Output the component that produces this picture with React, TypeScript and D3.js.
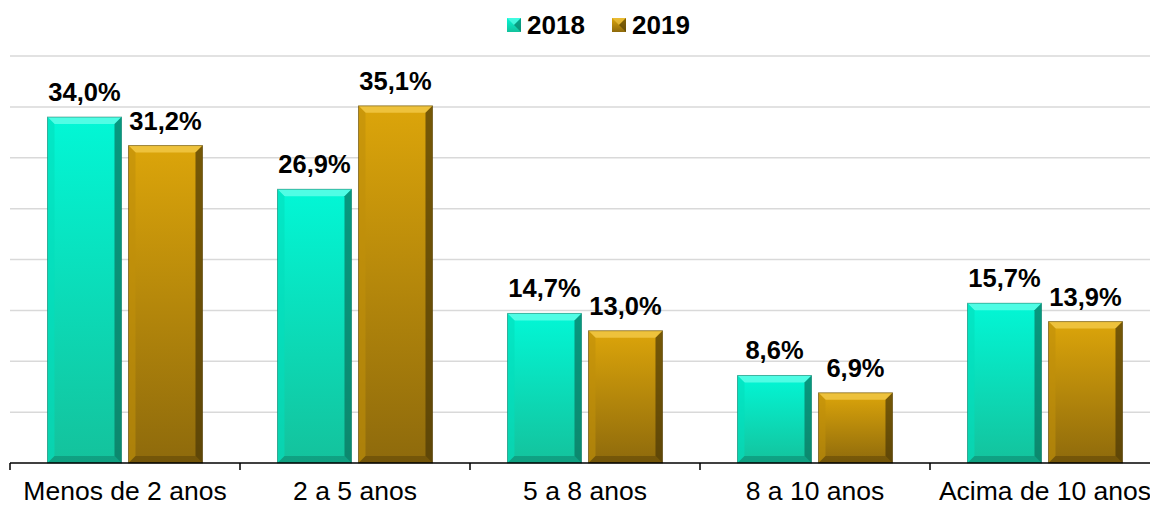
import React from "react";
import * as d3 from "d3";

const categories = ["Menos de 2 anos", "2 a 5 anos", "5 a 8 anos", "8 a 10 anos", "Acima de 10 anos"];
const series = ["2018", "2019"];
const values2018 = [34.0, 26.9, 14.7, 8.6, 15.7];
const values2019 = [31.2, 35.1, 13.0, 6.9, 13.9];
const gridTicks = [0, 5, 10, 15, 20, 25, 30, 35, 40];

const W = 1150;
const H = 506;

const palette: Record<string, { top: string; bottom: string; hi: string; lo: string; side: string }> = {
  "2018": { top: "#02F7D6", bottom: "#14C29C", hi: "#6BFFEA", lo: "#0A6F5A", side: "#04DDBC" },
  "2019": { top: "#DCA50A", bottom: "#8E6A0C", hi: "#F4CC4E", lo: "#4A3806", side: "#C08F0A" },
};

const fmt = (v: number) => v.toFixed(1).replace(".", ",") + "%";

function Bar({ x, y, w, h, s }: { x: number; y: number; w: number; h: number; s: string }) {
  const b = 7;
  const p = palette[s];
  const pts = (a: number[][]) => a.map((q) => q.join(",")).join(" ");
  return (
    <g>
      <rect x={x} y={y} width={w} height={h} fill={`url(#face${s})`} />
      <polygon points={pts([[x, y], [x + w, y], [x + w - b, y + b], [x + b, y + b]])} fill={p.hi} opacity={0.75} />
      <polygon points={pts([[x, y], [x + b, y + b], [x + b, y + h - b], [x, y + h]])} fill={p.side} opacity={0.6} />
      <polygon points={pts([[x + w, y], [x + w, y + h], [x + w - b, y + h - b], [x + w - b, y + b]])} fill={p.lo} opacity={0.7} />
      <polygon points={pts([[x, y + h], [x + w, y + h], [x + w - b, y + h - b], [x + b, y + h - b]])} fill={p.lo} opacity={0.4} />
      <rect x={x} y={y} width={w} height={h} fill="none" stroke={p.lo} strokeOpacity={0.5} strokeWidth={1} />
    </g>
  );
}

export default function App() {
  const axisY = 463;
  const x0 = d3.scaleBand<string>().domain(categories).range([10, 1160]).padding(0);
  const x1 = d3.scaleBand<string>().domain(series).range([0, x0.bandwidth()]).paddingInner(0.0864).paddingOuter(0.463);
  const y = d3.scaleLinear().domain([0, 40]).range([axisY, 56]);
  const data: Record<string, number[]> = { "2018": values2018, "2019": values2019 };
  const font = "'Liberation Sans', Arial, sans-serif";

  return (
    <svg width={W} height={H} style={{ position: "absolute", left: 0, top: 0, background: "#fff" }}>
      <defs>
        {series.map((s) => (
          <linearGradient key={s} id={`face${s}`} x1="0" y1="0" x2="0" y2="1">
            <stop offset="0" stopColor={palette[s].top} />
            <stop offset="1" stopColor={palette[s].bottom} />
          </linearGradient>
        ))}
      </defs>
      {gridTicks.slice(1).map((t) => (
        <line key={t} x1={10} x2={W} y1={y(t)} y2={y(t)} stroke="#d9d9d9" strokeWidth={1.5} />
      ))}
      {categories.map((c, i) =>
        series.map((s) => {
          const v = data[s][i];
          const bx = (x0(c) ?? 0) + (x1(s) ?? 0);
          return (
            <g key={c + s}>
              <Bar x={bx} y={y(v)} w={x1.bandwidth()} h={axisY - y(v)} s={s} />
              <text x={bx + x1.bandwidth() / 2} y={y(v) - 16} textAnchor="middle" fontFamily={font} fontWeight="bold" fontSize={25.5} fill="#000">
                {fmt(v)}
              </text>
            </g>
          );
        })
      )}
      <line x1={10} x2={W} y1={axisY} y2={axisY} stroke="#000" strokeWidth={1.5} />
      {categories.map((c) => (
        <line key={c} x1={x0(c)} x2={x0(c)} y1={axisY} y2={axisY + 7} stroke="#000" strokeWidth={1.5} />
      ))}
      {categories.map((c) => (
        <text key={c} x={(x0(c) ?? 0) + x0.bandwidth() / 2} y={500} textAnchor="middle" fontFamily={font} fontSize={26.5} fill="#000">
          {c}
        </text>
      ))}
      {series.map((s, i) => {
        const lx = 507 + i * 105;
        const sz = 14;
        const p = palette[s];
        return (
          <g key={s}>
            <rect x={lx} y={18} width={sz} height={sz} fill={`url(#face${s})`} />
            <polygon points={`${lx},18 ${lx + sz},18 ${lx + sz / 2},${18 + sz / 2}`} fill={p.hi} opacity={0.6} />
            <polygon points={`${lx + sz},18 ${lx + sz},${18 + sz} ${lx + sz / 2},${18 + sz / 2}`} fill={p.lo} opacity={0.6} />
            <text x={lx + 20} y={34} fontFamily={font} fontWeight="bold" fontSize={26} fill="#000">
              {s}
            </text>
          </g>
        );
      })}
    </svg>
  );
}
